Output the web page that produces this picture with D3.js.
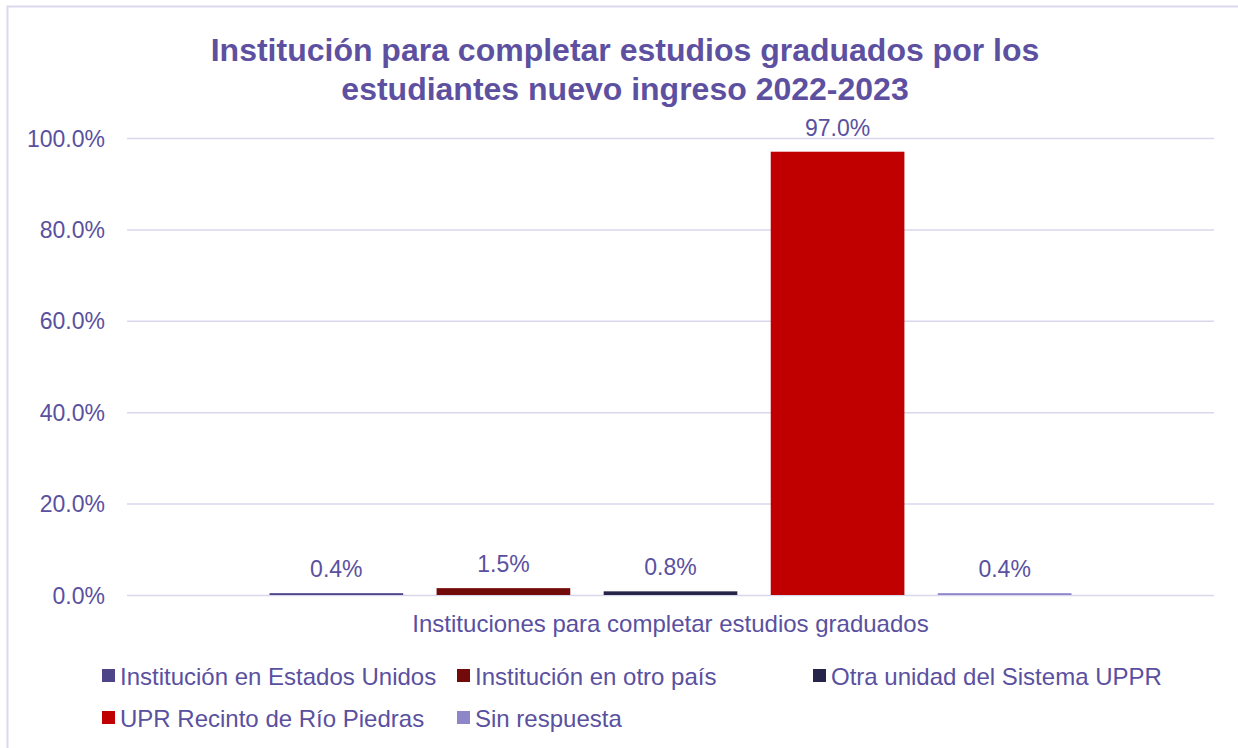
<!DOCTYPE html>
<html><head><meta charset="utf-8">
<script src="https://cdn.jsdelivr.net/npm/d3@7"></script>
<style>body{margin:0;background:#fff}svg{display:block}</style>
</head><body>
<svg id="c" width="1238" height="748"></svg>
<script>
const category = ["Instituciones para completar estudios graduados"];
const seriesNames = ["Institución en Estados Unidos","Institución en otro país","Otra unidad del Sistema UPPR","UPR Recinto de Río Piedras","Sin respuesta"];
const seriesValues = [0.4, 1.5, 0.8, 97.0, 0.4];
const seriesColors = ["#4E4589","#720A0A","#27244A","#C00000","#8E86C8"];
const yTicks = [0,20,40,60,80,100];
const titleLines = ["Institución para completar estudios graduados por los","estudiantes nuevo ingreso 2022-2023"];

(function(){
const txt = "#5A50A0";
const font = "'Liberation Sans', Arial, sans-serif";
const svg = d3.select("#c");

// border
svg.append("path").attr("d","M7.5,748 V6.5 H1238").attr("fill","none").attr("stroke","#DAD8EE").attr("stroke-width",2);

// title
svg.append("text").attr("x",625).attr("y",61).attr("text-anchor","middle")
  .attr("font-family",font).attr("font-weight","bold").attr("font-size",32).attr("fill","#5E50A0")
  .selectAll("tspan").data(titleLines).join("tspan").attr("x",625).attr("dy",(d,i)=>i?39:0).text(d=>d);

const pL=127,pR=1214,pT=138,pB=595;
const y = d3.scaleLinear().domain([0,100]).range([pB,pT]);
const x0 = d3.scaleBand().domain(category).range([pL,pR]).paddingInner(0).paddingOuter(0.1777);
const x1 = d3.scaleBand().domain(seriesNames).range([0,x0.bandwidth()]).paddingInner(0.2).paddingOuter(0);

// grid
svg.append("g").selectAll("line").data(yTicks).join("line")
  .attr("x1",pL).attr("x2",pR).attr("y1",d=>y(d)+0.5).attr("y2",d=>y(d)+0.5)
  .attr("stroke","#D9D7EC").attr("stroke-width",1.5);

// y axis labels
const ya = svg.append("g").attr("transform",`translate(${pL-22},0)`)
  .call(d3.axisLeft(y).tickValues(yTicks).tickSize(0).tickFormat(d=>d.toFixed(1)+"%"));
ya.select(".domain").remove();
ya.selectAll("text").attr("font-family",font).attr("font-size",23).attr("fill",txt).attr("dy","0.35em").attr("x",0);

// bars
const g = svg.append("g").attr("transform",`translate(${x0(category[0])},0)`);
const data = seriesNames.map((n,i)=>({n,v:seriesValues[i],c:seriesColors[i]}));
g.selectAll("rect").data(data).join("rect")
  .attr("x",d=>x1(d.n)).attr("width",x1.bandwidth())
  .attr("y",d=>y(d.v)).attr("height",d=>Math.max(0,pB-y(d.v)))
  .attr("fill",d=>d.c);
g.selectAll("text").data(data).join("text")
  .attr("x",d=>x1(d.n)+x1.bandwidth()/2).attr("y",d=>y(d.v)-16)
  .attr("text-anchor","middle").attr("font-family",font).attr("font-size",23).attr("fill",txt)
  .text(d=>d.v.toFixed(1)+"%");

// category label
svg.append("text").attr("x",x0(category[0])+x0.bandwidth()/2).attr("y",632).attr("text-anchor","middle")
  .attr("font-family",font).attr("font-size",24).attr("fill",txt).text(category[0]);

// legend
const colX=[102,457,813], rowY=[676,718];
const lg = svg.append("g").selectAll("g").data(data).join("g")
  .attr("transform",(d,i)=>`translate(${colX[i%3]},${rowY[Math.floor(i/3)]})`);
lg.append("rect").attr("x",0).attr("y",-7).attr("width",13).attr("height",13).attr("fill",d=>d.c);
lg.append("text").attr("x",18).attr("y",8.5).attr("font-family",font).attr("font-size",24).attr("fill",txt).text(d=>d.n);
})();
</script>
</body></html>
